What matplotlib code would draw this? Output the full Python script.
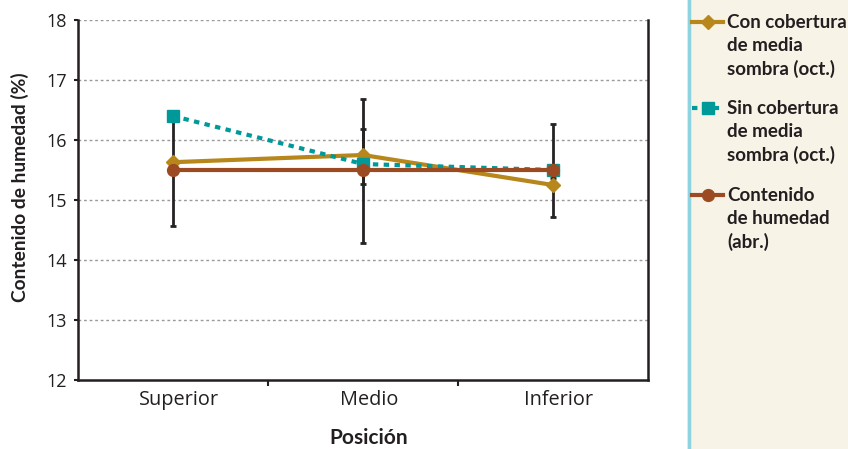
import matplotlib
matplotlib.use("Agg")
import matplotlib.pyplot as plt
from matplotlib.lines import Line2D
from matplotlib.patches import Rectangle
import numpy as np

plt.rcParams['font.family'] = ['Lato', 'DejaVu Sans']

categories = ["Superior", "Medio", "Inferior"]
con_cobertura = [15.63, 15.75, 15.25]
sin_cobertura = [16.40, 15.60, 15.50]
contenido_abr = [15.50, 15.50, 15.50]
err_con = [0.0, 0.46, 0.0]
err_sin = [0.0, 0.0, 0.11]
err_contenido = [0.95, 1.20, 0.78]
con_center = [15.63, 15.72, 15.25]
sin_center = [16.40, 15.60, 15.48]
contenido_center = [15.52, 15.49, 15.49]

labels = ["Con cobertura\nde media\nsombra (oct.)",
          "Sin cobertura\nde media\nsombra (oct.)",
          "Contenido\nde humedad\n(abr.)"]

c_con = "#b8871c"
c_sin = "#00999a"
c_cont = "#9b4a21"
c_err = "#262324"
c_txt = "#231f20"

W, H = 848, 449
fig = plt.figure(figsize=(W/100, H/100), dpi=100)
fig.patches.append(Rectangle((687/W, 0), 1 - 687/W, 1, transform=fig.transFigure,
                             facecolor="#f8f3e7", edgecolor="none", zorder=0))
fig.lines.append(Line2D([688.5/W, 688.5/W], [0, 1], transform=fig.transFigure,
                        color="#8dd3e0", lw=2.5, zorder=1))

ax = fig.add_axes([78/W, 1 - 380/H, (648 - 78)/W, 360/H])
x = np.arange(len(categories))

def draw_err(center, err):
    for xi, c, e in zip(x, center, err):
        if e > 0:
            ax.errorbar([xi], [c], yerr=[e], fmt="none", ecolor=c_err, elinewidth=2,
                        capsize=2.5, capthick=2, zorder=2)

draw_err(contenido_center, err_contenido)
draw_err(con_center, err_con)
draw_err(sin_center, err_sin)

styles = [
    dict(color=c_con, lw=3, marker="D", ms=7),
    dict(color=c_sin, lw=3, ls=(0, (1.3, 1.3)), marker="s", ms=8),
    dict(color=c_cont, lw=3, marker="o", ms=8.5),
]
ax.plot(x, con_cobertura, zorder=3, **styles[0])
ax.plot(x, sin_cobertura, zorder=4, **styles[1])
ax.plot(x, contenido_abr, zorder=5, **styles[2])

ax.set_xlim(-0.5, 2.5)
ax.set_ylim(12, 18)
ax.set_yticks(range(12, 19))
# labels sit slightly right of the category centres in the reference
ax.set_xticks(x + 0.03)
ax.set_xticklabels(categories, fontfamily=["Open Sans", "DejaVu Sans"], fontsize=14.3)
ax.set_yticklabels([str(v) for v in range(12, 19)], fontfamily=["Open Sans", "DejaVu Sans"], fontsize=13)
ax.set_xticks([0.5, 1.5], minor=True)
ax.tick_params(axis="x", which="major", length=0, pad=7, colors=c_txt)
ax.tick_params(axis="x", which="minor", length=4, width=1.5, color=c_txt)
ax.tick_params(axis="y", length=3, width=1.5, pad=5, color=c_txt, labelcolor=c_txt)
for yv in range(13, 19):
    ax.axhline(yv, color="#9a9a9a", lw=1, ls=(0, (2, 2)), zorder=1)
ax.spines["top"].set_visible(False)
for s in ["left", "bottom", "right"]:
    ax.spines[s].set_linewidth(1.8)
    ax.spines[s].set_color(c_txt)

fig.text(369/W, 1 - 438/H, "Posición", fontsize=15, fontweight="bold", color=c_txt,
         ha="center", va="center")
fig.text(20/W, 1 - 187/H, "Contenido de humedad (%)", fontsize=13.8, fontweight="bold",
         color=c_txt, ha="center", va="center", rotation=90)

# manual legend
first_y = [22, 108, 195]
line_gap = 23.5
for st, lab, y0 in zip(styles, labels, first_y):
    yy = 1 - y0/H
    fig.lines.append(Line2D([692/W, 707.5/W, 723/W], [yy, yy, yy], transform=fig.transFigure,
                            markevery=[1], zorder=3, **st))
    for i, line in enumerate(lab.split("\n")):
        fig.text(727/W, 1 - (y0 + i*line_gap)/H, line, fontsize=13.5, fontweight="bold",
                 color=c_txt, ha="left", va="center")

fig.savefig("out.png", dpi=100)
